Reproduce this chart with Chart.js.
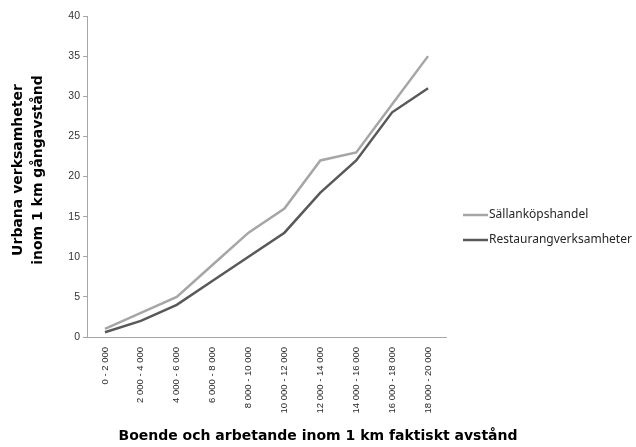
<!DOCTYPE html>
<html><head><meta charset="utf-8">
<script src="https://cdn.jsdelivr.net/npm/chart.js@4"></script>
<style>html,body{margin:0;padding:0;background:#fff}</style>
</head><body>
<canvas id="c" width="636" height="447"></canvas>
<script>
const categories = ['0 - 2 000','2 000 - 4 000','4 000 - 6 000','6 000 - 8 000','8 000 - 10 000','10 000 - 12 000','12 000 - 14 000','14 000 - 16 000','16 000 - 18 000','18 000 - 20 000'];
const sallankop = [1, 3, 5, 9, 13, 16, 22, 23, 29, 35];
const restaurang = [0.6, 2, 4, 7, 10, 13, 18, 22, 28, 31];
const seriesNames = ['Sällanköpshandel', 'Restaurangverksamheter'];
const seriesColors = ['#a6a6a6', '#595959'];
const yTitleLines = ['Urbana verksamheter', 'inom 1 km gångavstånd'];
const xTitle = 'Boende och arbetande inom 1 km faktiskt avstånd';

const titlesPlugin = {
  id: 'titles',
  afterDraw(chart) {
    const ctx = chart.ctx;
    ctx.save();
    ctx.fillStyle = '#000';
    ctx.font = 'bold 14px "DejaVu Sans"';
    ctx.textAlign = 'center';
    ctx.textBaseline = 'middle';
    ctx.fillText(xTitle, 318, 436);
    ctx.save();
    ctx.translate(0, 170);
    ctx.rotate(-Math.PI / 2);
    ctx.fillText(yTitleLines[0], 0, 18);
    ctx.fillText(yTitleLines[1], 0, 38);
    ctx.restore();
    // legend
    ctx.font = '12px "Noto Sans"';
    ctx.textAlign = 'left';
    ctx.fillStyle = '#262626';
    const ys = [215, 240];
    seriesNames.forEach((n, i) => {
      ctx.strokeStyle = seriesColors[i];
      ctx.lineWidth = 2.5;
      ctx.beginPath();
      ctx.moveTo(463, ys[i]);
      ctx.lineTo(488, ys[i]);
      ctx.stroke();
      ctx.fillText(n, 489, ys[i]);
    });
    ctx.restore();
  }
};

new Chart(document.getElementById('c'), {
  type: 'line',
  data: {
    labels: categories,
    datasets: [
      { label: seriesNames[0], data: sallankop, borderColor: seriesColors[0], backgroundColor: seriesColors[0], borderWidth: 2.5, pointRadius: 0, tension: 0 },
      { label: seriesNames[1], data: restaurang, borderColor: seriesColors[1], backgroundColor: seriesColors[1], borderWidth: 2.5, pointRadius: 0, tension: 0 }
    ]
  },
  options: {
    responsive: false,
    animation: false,
    layout: { padding: { left: 57, right: 190, top: 16, bottom: 30 } },
    plugins: { legend: { display: false }, tooltip: { enabled: false } },
    scales: {
      x: {
        offset: true,
        grid: { display: false },
        border: { display: true, color: '#a6a6a6', width: 1 },
        ticks: { autoSkip: false, minRotation: 90, maxRotation: 90, padding: 2, color: '#262626', font: { family: 'Liberation Sans', size: 9.5 } },
        afterFit: s => { s.height = 80; }
      },
      y: {
        min: 0, max: 40,
        grid: { drawOnChartArea: false, drawTicks: true, tickLength: 4, color: '#a6a6a6' },
        border: { display: true, color: '#a6a6a6', width: 1 },
        ticks: { stepSize: 5, padding: 3, color: '#333', font: { family: 'Liberation Sans', size: 10.5 } },
        afterFit: s => { s.width = 30; }
      }
    }
  },
  plugins: [titlesPlugin]
});
</script>
</body></html>
